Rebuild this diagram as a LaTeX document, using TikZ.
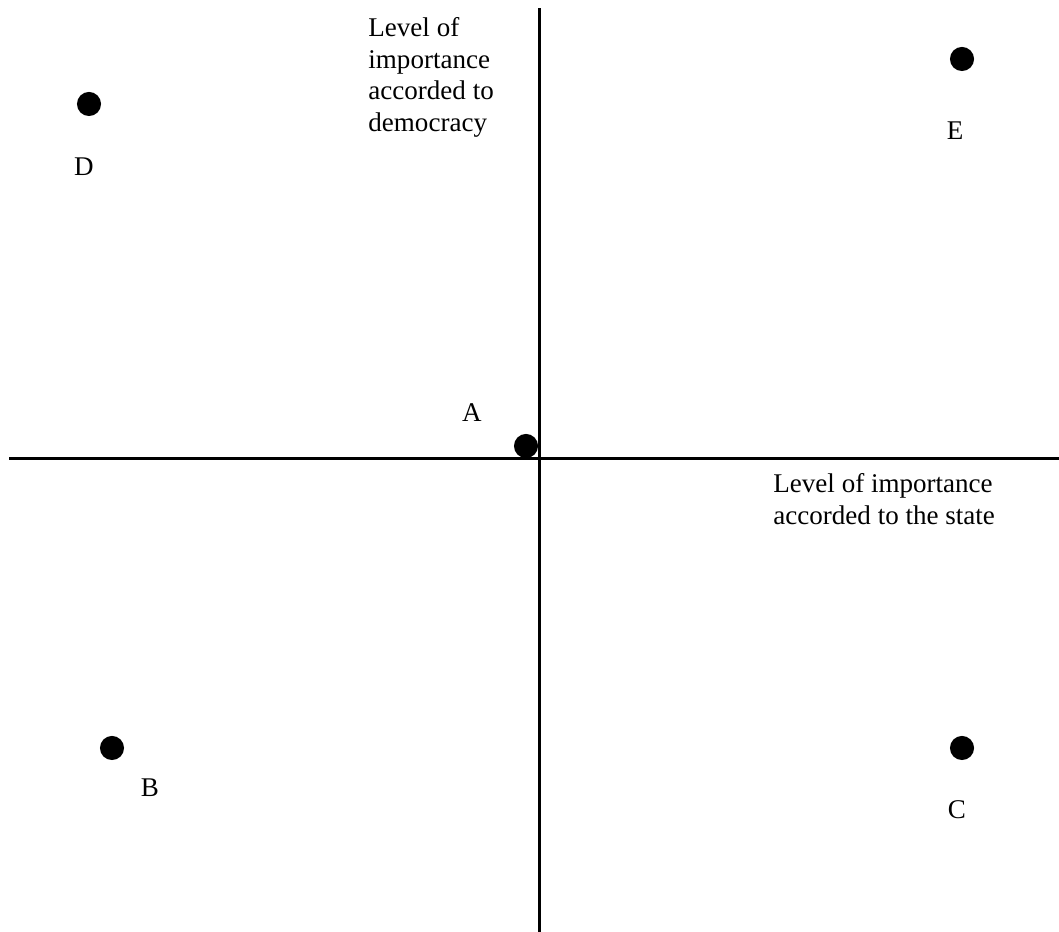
\documentclass[tikz,border=0pt]{standalone}
\usepackage{fontspec}
\setmainfont{Liberation Serif}
\begin{document}
\begin{tikzpicture}[x=0.444pt,y=0.444pt,font=\fontsize{12}{14}\selectfont,
    dot/.style={circle,fill=black,inner sep=0pt,minimum size=10.7pt},
    lbl/.style={inner sep=0pt}]
  \useasboundingbox (0,0) rectangle (1059,932);
  % axes
  \draw[line width=0.9pt] (539.5,0) -- (539.5,924);
  \draw[line width=0.9pt] (9,473.5) -- (1059,473.5);
  \node[lbl,anchor=north west,align=left] (ydesc) at (368,914.6)
       {Level of\\importance\\accorded to\\democracy};
  \node[lbl,anchor=north west,align=left] (xdesc) at (773,459)
       {Level of importance\\accorded to the state};
  % positions
  \node[dot] (ptA) at (526,486) {};
  \node[dot] (ptB) at (112,184) {};
  \node[dot] (ptC) at (962,184) {};
  \node[dot] (ptD) at (89,828) {};
  \node[dot] (ptE) at (962,873) {};
  \node[lbl] (labA) at (472,519) {A};
  \node[lbl] (labB) at (150,144) {B};
  \node[lbl] (labC) at (957,122) {C};
  \node[lbl] (labD) at (84,765) {D};
  \node[lbl] (labE) at (955,801) {E};
\end{tikzpicture}
\end{document}
